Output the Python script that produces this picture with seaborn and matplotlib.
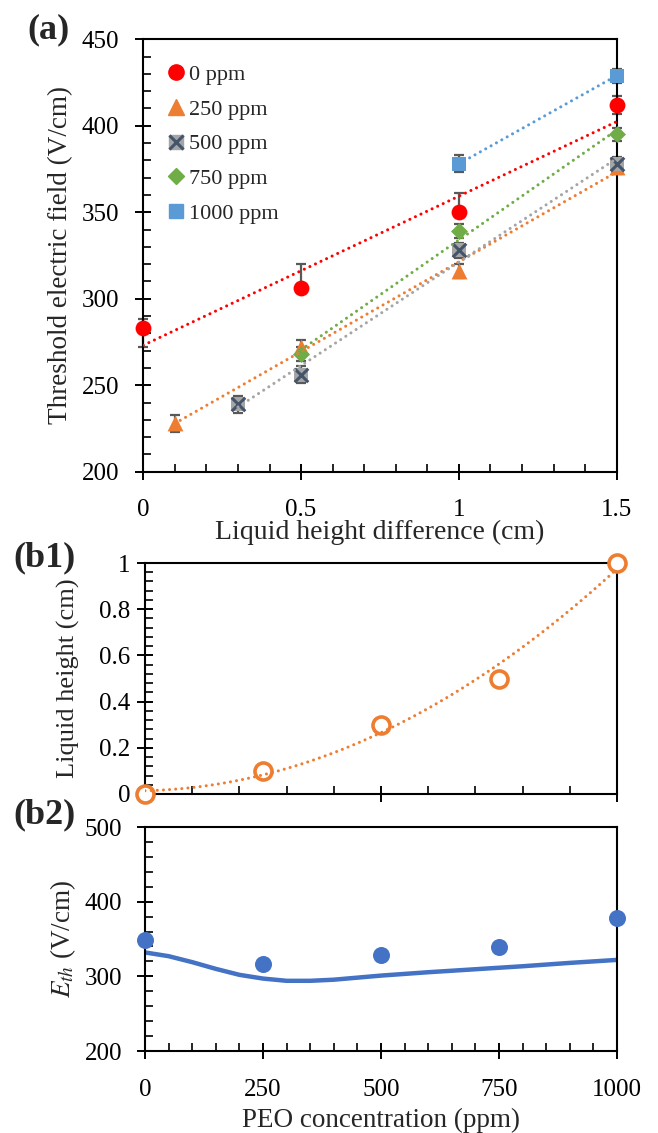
"""
Threshold electric field vs liquid height difference, liquid height and
E_th vs PEO concentration (three stacked panels)
"""

import numpy as np
import matplotlib
matplotlib.use("Agg")
import matplotlib.pyplot as plt
import seaborn as sns
from matplotlib.lines import Line2D
from matplotlib.legend_handler import HandlerTuple
from matplotlib.ticker import MultipleLocator, FuncFormatter

# ---- panel (a): threshold field vs liquid height difference ----
conc_labels = ["0 ppm", "250 ppm", "500 ppm", "750 ppm", "1000 ppm"]

dh_0 = [0, 0.5, 1, 1.5]
eth_0 = [283, 306, 350, 412]
err_0_lo = [11, 0, 0, 5]
err_0_hi = [5, 14, 11, 5]

dh_250 = [0.1, 0.5, 1, 1.5]
eth_250 = [228, 272, 316, 376]
err_250 = [5, 4, 4, 4]

dh_500 = [0.3, 0.5, 1, 1.5]
eth_500 = [239, 256, 328, 378]
err_500 = [5, 5, 4.5, 4]

dh_750 = [0.5, 1, 1.5]
eth_750 = [268, 339, 395]
err_750 = [4, 4, 4]

dh_1000 = [1, 1.5]
eth_1000 = [378, 429]
err_1000 = [5, 4]

# ---- panels (b1), (b2): vs PEO concentration ----
peo = [0, 250, 500, 750, 1000]
liquid_h = [0, 0.1, 0.3, 0.5, 1.0]
eth_exp = [349, 317, 328, 339, 378]
model_peo = [0, 50, 100, 150, 200, 250, 300, 350, 400, 500, 600, 700, 800, 900, 1000]
model_eth = [332, 327, 319, 310, 302, 297, 294, 294, 295.5, 301, 305.5, 309.5, 313.5, 318, 322]

RED, ORANGE, GRAY, GREEN, BLUE = "#FF0000", "#ED7D31", "#A5A5A5", "#70AD47", "#5B9BD5"
NAVY, DARKBLUE, ERRC = "#44546A", "#4472C4", "#595959"
DOTS = (0, (0.01, 2.0))

sns.set_theme(style="ticks")
plt.rcParams["font.family"] = ["Liberation Serif", "DejaVu Serif"]
plt.rcParams["mathtext.fontset"] = "stix"
plt.rcParams["axes.linewidth"] = 1.5
plt.rcParams["axes.edgecolor"] = "black"

W, H = 658, 1133
fig = plt.figure(figsize=(W / 100, H / 100), dpi=100)


def box(l, t, r, b):
    return fig.add_axes([l / W, 1 - b / H, (r - l) / W, (b - t) / H])


def style_ticks(ax, fs, ypad):
    ax.tick_params(which="major", direction="inout", length=11, width=1.4,
                   labelsize=fs, colors="black")
    ax.tick_params(axis="y", pad=ypad)
    ax.tick_params(which="minor", direction="in", length=6, width=1.2, colors="black")
    ax.tick_params(top=False, right=False, which="both")
    for s in ax.spines.values():
        s.set_visible(True)
        s.set_color("black")
        s.set_linewidth(1.5)
    fmt = FuncFormatter(lambda v, p: f"{v:g}")
    ax.xaxis.set_major_formatter(fmt)
    ax.yaxis.set_major_formatter(fmt)


def trend(ax, x, y, color, deg=1, lw=2.2):
    coef = np.polyfit(x, y, deg)
    xs = np.linspace(min(x), max(x), 100)
    sns.lineplot(x=xs, y=np.polyval(coef, xs), ax=ax, color=color, lw=lw,
                 linestyle=DOTS, dash_capstyle="round", zorder=4)


# ---------------- (a) ----------------
ax = box(143.3, 39.3, 616.7, 471.7)
series = [
    (dh_0, eth_0, [err_0_lo, err_0_hi], RED, "o", 130),
    (dh_250, eth_250, err_250, ORANGE, "^", 130),
    (dh_500, eth_500, err_500, GRAY, "s", 100),
    (dh_750, eth_750, err_750, GREEN, "D", 75),
    (dh_1000, eth_1000, err_1000, BLUE, "s", 110),
]
for x, y, e, c, m, s in series:
    ax.errorbar(x, y, yerr=e, fmt="none", ecolor=ERRC, elinewidth=1.6,
                capsize=3.8, capthick=1.6, zorder=2, clip_on=False)
for i, (x, y, e, c, m, s) in enumerate(series):
    sns.scatterplot(x=x, y=y, ax=ax, color=c, marker=m, s=s, edgecolor=c,
                    linewidth=0, zorder=3 + i * 0.1, clip_on=False)
    if i == 2:
        sns.scatterplot(x=x, y=y, ax=ax, color=NAVY, marker="x", s=95,
                        linewidth=2.2, zorder=3.25, clip_on=False)
    trend(ax, x, y, c)

ax.set_xlim(0, 1.5)
ax.set_ylim(200, 450)
ax.xaxis.set_major_locator(MultipleLocator(0.5))
ax.xaxis.set_minor_locator(MultipleLocator(0.1))
ax.yaxis.set_major_locator(MultipleLocator(50))
ax.yaxis.set_minor_locator(MultipleLocator(10))
style_ticks(ax, 18, 12)
ax.tick_params(axis="x", pad=14)
ax.set_xlabel("Liquid height difference (cm)", fontsize=20, va="center")
ax.xaxis.set_label_coords(0.5, -(532 - 471.7) / 432.4)
ax.set_ylabel("Threshold electric field (V/cm)", fontsize=19.5, va="center")
ax.yaxis.set_label_coords((61 - 143.3) / 473.4, 0.5)

handles = [
    Line2D([], [], ls="none", marker="o", color=RED, ms=11),
    Line2D([], [], ls="none", marker="^", color=ORANGE, ms=11),
    (Line2D([], [], ls="none", marker="s", color=GRAY, ms=10),
     Line2D([], [], ls="none", marker="x", color=NAVY, ms=9.5, mew=2.2)),
    Line2D([], [], ls="none", marker="D", color=GREEN, ms=8.5),
    Line2D([], [], ls="none", marker="s", color=BLUE, ms=10),
]
ax.legend(handles, conc_labels, loc="upper left", bbox_to_anchor=(0.012, 0.978),
          frameon=False, fontsize=16, handlelength=1.0, handletextpad=0.1,
          labelspacing=0.64, borderaxespad=0.3,
          handler_map={tuple: HandlerTuple(ndivide=1, pad=0)})

# ---------------- (b1) ----------------
ax1 = box(145, 563, 617, 794)
sns.scatterplot(x=peo, y=liquid_h, ax=ax1, marker="o", s=150, facecolor="white",
                edgecolor=ORANGE, linewidth=2.6, zorder=3, clip_on=False)
trend(ax1, peo, liquid_h, ORANGE, deg=2)
ax1.set_xlim(0, 1000)
ax1.set_ylim(0, 1)
ax1.xaxis.set_major_locator(MultipleLocator(500))
ax1.xaxis.set_minor_locator(MultipleLocator(100))
ax1.yaxis.set_major_locator(MultipleLocator(0.2))
ax1.yaxis.set_minor_locator(MultipleLocator(0.04))
style_ticks(ax1, 18, 5)
ax1.tick_params(axis="x", labelbottom=False)
ax1.set_ylabel("Liquid height (cm)", fontsize=19, va="center")
ax1.yaxis.set_label_coords((68 - 145) / 472, 0.5)

# ---------------- (b2) ----------------
ax2 = box(145, 827, 617, 1051)
sns.lineplot(x=model_peo, y=model_eth, ax=ax2, color=DARKBLUE, lw=3.2, zorder=2,
             solid_joinstyle="round", solid_capstyle="butt")
sns.scatterplot(x=peo, y=eth_exp, ax=ax2, color=DARKBLUE, marker="o", s=150,
                linewidth=0, zorder=3, clip_on=False)
ax2.set_xlim(0, 1000)
ax2.set_ylim(200, 500)
ax2.xaxis.set_major_locator(MultipleLocator(250))
ax2.xaxis.set_minor_locator(MultipleLocator(50))
ax2.yaxis.set_major_locator(MultipleLocator(100))
ax2.yaxis.set_minor_locator(MultipleLocator(20))
style_ticks(ax2, 18, 11)
ax2.tick_params(axis="x", pad=15)
ax2.set_xlabel("PEO concentration (ppm)", fontsize=19.5, va="center")
ax2.xaxis.set_label_coords(0.5, -(1120 - 1051) / 224)
ax2.set_ylabel(r"$E_{th}$ (V/cm)", fontsize=19.5, va="center")
ax2.yaxis.set_label_coords((63 - 145) / 472, 0.5)

# panel letters
for txt, px, py in [("(a)", 27, 30), ("(b1)", 13, 558), ("(b2)", 13, 815)]:
    fig.text(px / W, 1 - py / H, txt, fontsize=26, fontweight="bold",
             ha="left", va="center")

fig.savefig("out.png", dpi=100)
